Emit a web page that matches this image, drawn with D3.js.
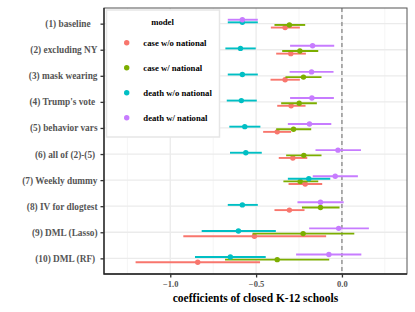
<!DOCTYPE html>
<html>
<head>
<meta charset="utf-8">
<script src="https://cdn.jsdelivr.net/npm/d3@7"></script>
<style>
  body { margin: 0; background: #fff; }
  text { font-family: "Liberation Serif", "Times New Roman", serif; font-weight: bold; }
</style>
</head>
<body>
<div id="viz"></div>
<script>
// specifications, top to bottom (labels carry their own trailing padding)
var specs = ["(1) baseline   ", "(2) excluding NY", "(3) mask wearing", "(4) Trump's vote ",
             "(5) behavior vars", "(6) all of (2)-(5) ", "(7) Weekly dummy", "(8) IV for dlogtest",
             "(9) DML (Lasso)", "(10) DML (RF) "];

var models = ["case w/o national", "case w/ national", "death w/o national", "death w/ national"];
var modelColors = ["#F8766D", "#7CAE00", "#00BFC4", "#C77CFF"];

// point estimates and interval ends, one value per spec
var caseWoEst  = [-0.331, -0.298, -0.331, -0.296, -0.377, -0.286, -0.214, -0.306, -0.510, -0.840];
var caseWoLo   = [-0.414, -0.383, -0.416, -0.377, -0.459, -0.368, -0.311, -0.393, -0.924, -1.202];
var caseWoHi   = [-0.245, -0.210, -0.245, -0.212, -0.296, -0.202, -0.115, -0.218, -0.092, -0.477];

var caseWEst   = [-0.306, -0.245, -0.224, -0.249, -0.282, -0.222, -0.243, -0.125, -0.226, -0.377];
var caseWLo    = [-0.393, -0.348, -0.329, -0.354, -0.383, -0.325, -0.341, -0.233, -0.521, -0.681];
var caseWHi    = [-0.214, -0.138, -0.119, -0.146, -0.179, -0.119, -0.138, -0.014,  0.072, -0.074];

var deathWoEst = [-0.580, -0.591, -0.580, -0.586, -0.566, -0.560, -0.193, -0.580, -0.603, -0.650];
var deathWoLo  = [-0.665, -0.679, -0.665, -0.671, -0.656, -0.652, -0.315, -0.665, -0.817, -0.856];
var deathWoHi  = [-0.490, -0.502, -0.490, -0.496, -0.475, -0.467, -0.068, -0.490, -0.385, -0.444];

var deathWEst  = [-0.580, -0.171, -0.177, -0.175, -0.189, -0.023, -0.039, -0.125, -0.019, -0.076];
var deathWLo   = [-0.665, -0.302, -0.305, -0.302, -0.315, -0.154, -0.170, -0.259, -0.191, -0.267];
var deathWHi   = [-0.490, -0.045, -0.049, -0.047, -0.062,  0.111,  0.093,  0.010,  0.157,  0.113];

var xTicks = [-1.0, -0.5, 0.0];
var xMinor = [-1.25, -0.75, -0.25, 0.25];

var series = [
  { model: models[0], est: caseWoEst,  lo: caseWoLo,  hi: caseWoHi },
  { model: models[1], est: caseWEst,   lo: caseWLo,   hi: caseWHi },
  { model: models[2], est: deathWoEst, lo: deathWoLo, hi: deathWoHi },
  { model: models[3], est: deathWEst,  lo: deathWLo,  hi: deathWHi }
];

var W = 415, H = 312;
var margin = { top: 8, right: 8, bottom: 38, left: 104 };

var svg = d3.select("#viz").append("svg")
  .attr("width", W).attr("height", H);

var x = d3.scaleLinear().domain([-1.386, 0.379]).range([margin.left, W - margin.right]);
var y = d3.scalePoint().domain(specs).range([margin.top, H - margin.bottom]).padding(0.6);
var color = d3.scaleOrdinal().domain(models).range(modelColors);
// dodge: death w/ national on top, case w/o national at the bottom
var dodge = d3.scalePoint().domain(models.slice().reverse())
  .range([-0.15 * y.step(), 0.15 * y.step()]);

// grid
svg.append("g").selectAll("line").data(xMinor).enter().append("line")
  .attr("x1", function (d) { return x(d); }).attr("x2", function (d) { return x(d); })
  .attr("y1", margin.top).attr("y2", H - margin.bottom)
  .attr("stroke", "#F2F2F2").attr("stroke-width", 0.8);
svg.append("g").selectAll("line").data(xTicks).enter().append("line")
  .attr("x1", function (d) { return x(d); }).attr("x2", function (d) { return x(d); })
  .attr("y1", margin.top).attr("y2", H - margin.bottom)
  .attr("stroke", "#EBEBEB").attr("stroke-width", 1.3);
svg.append("g").selectAll("line").data(specs).enter().append("line")
  .attr("x1", margin.left).attr("x2", W - margin.right)
  .attr("y1", function (d) { return y(d); }).attr("y2", function (d) { return y(d); })
  .attr("stroke", "#EBEBEB").attr("stroke-width", 1.3);

// zero line
svg.append("line")
  .attr("x1", x(0)).attr("x2", x(0))
  .attr("y1", margin.top).attr("y2", H - margin.bottom)
  .attr("stroke", "#7F7F7F").attr("stroke-width", 1.2)
  .attr("stroke-dasharray", "4,3");

// intervals and points
var groups = svg.append("g").selectAll("g").data(series).enter().append("g");
groups.selectAll("line").data(function (s) {
    return specs.map(function (sp, i) { return { spec: sp, model: s.model, est: s.est[i], lo: s.lo[i], hi: s.hi[i] }; });
  }).enter().append("line")
  .attr("x1", function (d) { return x(d.lo); })
  .attr("x2", function (d) { return x(d.hi); })
  .attr("y1", function (d) { return y(d.spec) + dodge(d.model); })
  .attr("y2", function (d) { return y(d.spec) + dodge(d.model); })
  .attr("stroke", function (d) { return color(d.model); })
  .attr("stroke-width", 1.9);
groups.selectAll("circle").data(function (s) {
    return specs.map(function (sp, i) { return { spec: sp, model: s.model, est: s.est[i] }; });
  }).enter().append("circle")
  .attr("cx", function (d) { return x(d.est); })
  .attr("cy", function (d) { return y(d.spec) + dodge(d.model); })
  .attr("r", 2.7)
  .attr("fill", function (d) { return color(d.model); });

// panel border
svg.append("rect")
  .attr("x", margin.left).attr("y", margin.top)
  .attr("width", W - margin.right - margin.left).attr("height", H - margin.bottom - margin.top)
  .attr("fill", "none").attr("stroke", "#555").attr("stroke-width", 1);
svg.append("path")
  .attr("d", "M" + margin.left + "," + margin.top + "V" + (H - margin.bottom) + "H" + (W - margin.right))
  .attr("fill", "none").attr("stroke", "#222").attr("stroke-width", 1.3);

// y axis
var yAxis = svg.append("g")
  .attr("transform", "translate(" + margin.left + ",0)")
  .call(d3.axisLeft(y).tickSize(3.5).tickPadding(3));
yAxis.select(".domain").remove();
yAxis.selectAll(".tick line").attr("stroke", "#333").attr("stroke-width", 1.3);
yAxis.selectAll(".tick text")
  .attr("fill", "#555").style("font-size", "9.3px")
  .style("font-family", "'Liberation Serif', serif").style("font-weight", "bold")
  .style("white-space", "pre");

// x axis
var xAxis = svg.append("g")
  .attr("transform", "translate(0," + (H - margin.bottom) + ")")
  .call(d3.axisBottom(x).tickValues(xTicks).tickFormat(d3.format(".1f")).tickSize(3.5).tickPadding(3));
xAxis.select(".domain").remove();
xAxis.selectAll(".tick line").attr("stroke", "#333").attr("stroke-width", 1.3);
xAxis.selectAll(".tick text")
  .attr("fill", "#555").style("font-size", "8.5px")
  .style("font-family", "'Liberation Serif', serif").style("font-weight", "bold");

svg.append("text")
  .attr("x", (margin.left + W - margin.right) / 2).attr("y", 301.5)
  .attr("text-anchor", "middle")
  .style("font-size", "11.5px")
  .text("coefficients of closed K-12 schools");

// legend
var legend = svg.append("g");
legend.append("rect")
  .attr("x", 106.5).attr("y", 10).attr("width", 113).attr("height", 127)
  .attr("fill", "#fff").attr("stroke", "#E6E6E6").attr("stroke-width", 1.5);
legend.append("text")
  .attr("x", 162.5).attr("y", 25)
  .attr("text-anchor", "middle").style("font-size", "8.7px")
  .text("model");
var items = legend.selectAll(".item").data(models).enter().append("g")
  .attr("transform", function (d, i) { return "translate(0," + (42.7 + i * 25) + ")"; });
items.append("circle")
  .attr("cx", 126.7).attr("cy", 0).attr("r", 2.7)
  .attr("fill", function (d) { return color(d); });
items.append("text")
  .attr("x", 143.3).attr("y", 3)
  .style("font-size", "8.7px")
  .text(function (d) { return d; });
</script>
</body>
</html>
